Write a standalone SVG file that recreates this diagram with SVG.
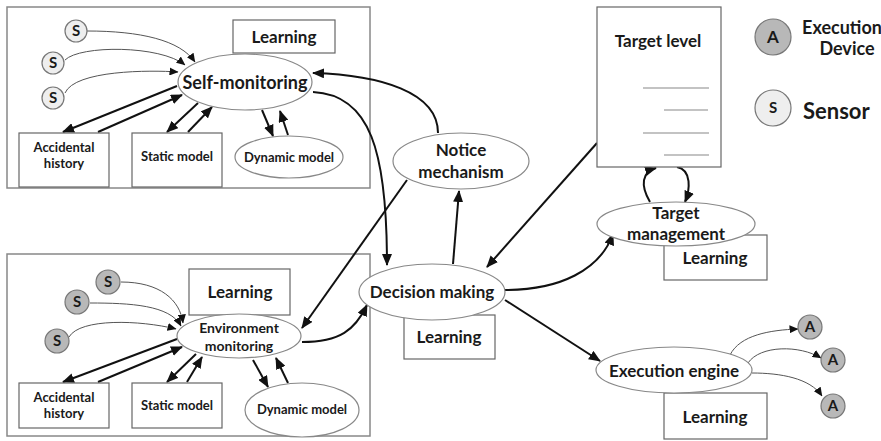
<svg xmlns="http://www.w3.org/2000/svg" width="881" height="441" viewBox="0 0 881 441">
<defs>
<marker id="ah" markerUnits="userSpaceOnUse" markerWidth="12" markerHeight="10" refX="11" refY="5" orient="auto"><path d="M0,0 L12,5 L0,10 Z" fill="#111"/></marker>
<marker id="ahs" markerUnits="userSpaceOnUse" markerWidth="9" markerHeight="8" refX="8.5" refY="4" orient="auto"><path d="M0,0 L9,4 L0,8 Z" fill="#111"/></marker>
<style>
.panel{fill:none;stroke:#888;stroke-width:1.5}
.box{fill:#fff;stroke:#666;stroke-width:1.2}
.ell{fill:#fff;stroke:#888;stroke-width:1.2}
.arr{fill:none;stroke:#111;stroke-width:2;marker-end:url(#ah)}
.thin{fill:none;stroke:#555;stroke-width:1;marker-end:url(#ahs)}
.sl{fill:#eee;stroke:#777;stroke-width:1.2}
.sd{fill:#b8b8b8;stroke:#777;stroke-width:1.2}
.ln{stroke:#888;stroke-width:1.2}
text{font-family:Lato,"Open Sans","Liberation Sans",sans-serif;font-weight:bold;fill:#1a1a1a;text-anchor:middle}
.t18{font-size:18px}
.t17{font-size:17px}
.t15{font-size:15px}
.t14{font-size:14px}
.t13{font-size:13px}
.t16{font-size:16px}
</style>
</defs>

<g id="panels">
<rect class="panel" x="7" y="7" width="363" height="181"/>
<rect class="panel" x="7" y="254" width="363" height="182"/>
</g>

<g id="connectors">
<path class="thin" d="M87,31 C140,31 180,40 195,62"/>
<path class="thin" d="M65,60 C80,45 160,45 185,65"/>
<path class="thin" d="M65,93 C75,70 150,70 178,72"/>
<path class="arr" d="M177,86 L63,132"/>
<path class="arr" d="M98,132 L182,95"/>
<path class="arr" d="M198,103 L167,132"/>
<path class="arr" d="M188,132 L212,107"/>
<path class="arr" d="M262,110 L273,136"/>
<path class="arr" d="M288,135 L280,111"/>
<path class="thin" d="M121,282 C160,282 180,300 183,323"/>
<path class="thin" d="M90,303 C130,303 170,305 181,326"/>
<path class="thin" d="M69,337 C80,318 140,320 176,329"/>
<path class="arr" d="M177,339 L63,382"/>
<path class="arr" d="M98,382 L182,347"/>
<path class="arr" d="M196,354 L167,382"/>
<path class="arr" d="M187,382 L202,357"/>
<path class="arr" d="M253,360 L268,387"/>
<path class="arr" d="M288,383 L276,358"/>
<path class="arr" d="M438,133 C438,92 380,75 313,73"/>
<path class="arr" d="M313,92 C370,95 387,150 387,265"/>
<path class="arr" d="M407,180 L302,328"/>
<path class="arr" d="M302,342 C340,342 355,330 367,305"/>
<path class="arr" d="M453,264 L459,191"/>
<path class="arr" d="M597,143 L487,267"/>
<path class="arr" d="M505,290 C560,290 600,270 613,234"/>
<path class="arr" d="M505,300 L600,361"/>
<path class="arr" d="M650,202 C640,185 642,172 656,168"/>
<path class="arr" d="M677,167 C692,170 690,190 685,202"/>
<path class="thin" d="M730,355 C740,335 770,330 798,329"/>
<path class="thin" d="M748,363 C760,345 800,345 821,358"/>
<path class="thin" d="M752,373 C780,373 810,378 822,396"/>
</g>

<g id="self-monitoring-panel">
<g id="s1"><circle class="sl" cx="76" cy="31" r="11"/><text class="t15" x="76" y="36">S</text></g>
<g id="s2"><circle class="sl" cx="53" cy="63" r="11"/><text class="t15" x="53" y="68">S</text></g>
<g id="s3"><circle class="sl" cx="53" cy="98" r="11"/><text class="t15" x="53" y="103">S</text></g>
<g id="learning-top"><rect class="box" x="233" y="20" width="102" height="33"/><text class="t17" x="284" y="43">Learning</text></g>
<g id="self-monitoring"><ellipse class="ell" cx="245" cy="82" rx="67" ry="28"/><text class="t18" x="245" y="89">Self-monitoring</text></g>
<g id="accidental-top"><rect class="box" x="19" y="133" width="90" height="54"/><text class="t13" x="64" y="152">Accidental</text><text class="t13" x="64" y="168">history</text></g>
<g id="static-top"><rect class="box" x="132" y="133" width="90" height="54"/><text class="t13" x="177" y="161">Static model</text></g>
<g id="dynamic-top"><ellipse class="ell" cx="289" cy="157" rx="54" ry="21"/><text class="t13" x="289" y="162">Dynamic model</text></g>
</g>

<g id="environment-panel">
<g id="e1"><circle class="sd" cx="108" cy="282" r="12"/><text class="t15" x="108" y="287">S</text></g>
<g id="e2"><circle class="sd" cx="77" cy="302" r="12"/><text class="t15" x="77" y="307">S</text></g>
<g id="e3"><circle class="sd" cx="57" cy="341" r="12"/><text class="t15" x="57" y="346">S</text></g>
<g id="learning-env"><rect class="box" x="189" y="269" width="101" height="46"/><text class="t17" x="240" y="298">Learning</text></g>
<g id="environment-monitoring"><ellipse class="ell" cx="239" cy="336" rx="62" ry="22"/><text class="t14" x="239" y="333">Environment</text><text class="t14" x="239" y="351">monitoring</text></g>
<g id="accidental-env"><rect class="box" x="19" y="383" width="90" height="45"/><text class="t13" x="64" y="402">Accidental</text><text class="t13" x="64" y="418">history</text></g>
<g id="static-env"><rect class="box" x="132" y="383" width="90" height="45"/><text class="t13" x="177" y="410">Static model</text></g>
<g id="dynamic-env"><ellipse class="ell" cx="302" cy="410" rx="57" ry="27"/><text class="t13" x="302" y="414">Dynamic model</text></g>
</g>

<g id="notice-mechanism"><ellipse class="ell" cx="461" cy="161" rx="68" ry="28"/><text class="t17" x="461" y="156">Notice</text><text class="t17" x="461" y="178">mechanism</text></g>

<g id="decision-making">
<rect class="box" x="404" y="315" width="91" height="44"/><text class="t17" x="449" y="343">Learning</text>
<ellipse class="ell" cx="432" cy="292" rx="73" ry="28"/><text class="t17" x="432" y="298">Decision making</text>
</g>

<g id="target-level">
<rect class="box" x="597" y="7" width="124" height="160"/>
<text class="t17" x="658" y="47">Target level</text>
<line class="ln" x1="643" y1="88" x2="709" y2="88"/>
<line class="ln" x1="664" y1="110" x2="708" y2="110"/>
<line class="ln" x1="643" y1="133" x2="709" y2="133"/>
<line class="ln" x1="664" y1="155" x2="709" y2="155"/>
</g>

<g id="target-management">
<rect class="box" x="664" y="235" width="103" height="45"/><text class="t17" x="715" y="264">Learning</text>
<ellipse class="ell" cx="676" cy="224" rx="79" ry="22"/>
<text class="t17" x="676" y="219">Target</text><text class="t17" x="676" y="240">management</text>
</g>

<g id="execution-engine">
<rect class="box" x="664" y="393" width="103" height="46"/><text class="t17" x="715" y="423">Learning</text>
<ellipse class="ell" cx="674" cy="370" rx="78" ry="23"/><text class="t17" x="674" y="377">Execution engine</text>
</g>

<g id="actuators">
<g id="a1"><circle class="sd" cx="810" cy="327" r="12"/><text class="t15" x="810" y="332">A</text></g>
<g id="a2"><circle class="sd" cx="833" cy="360" r="12"/><text class="t15" x="833" y="365">A</text></g>
<g id="a3"><circle class="sd" cx="833" cy="406" r="12"/><text class="t15" x="833" y="411">A</text></g>
</g>

<g id="legend">
<circle class="sd" cx="773" cy="37" r="18"/><text class="t17" x="773" y="43">A</text>
<text class="t18" x="842" y="34">Execution</text><text class="t18" x="847" y="55">Device</text>
<circle class="sl" cx="773" cy="108" r="18"/><text class="t15" x="773" y="113">S</text>
<text x="803" y="119" style="font-size:22px;text-anchor:start">Sensor</text>
</g>
</svg>
